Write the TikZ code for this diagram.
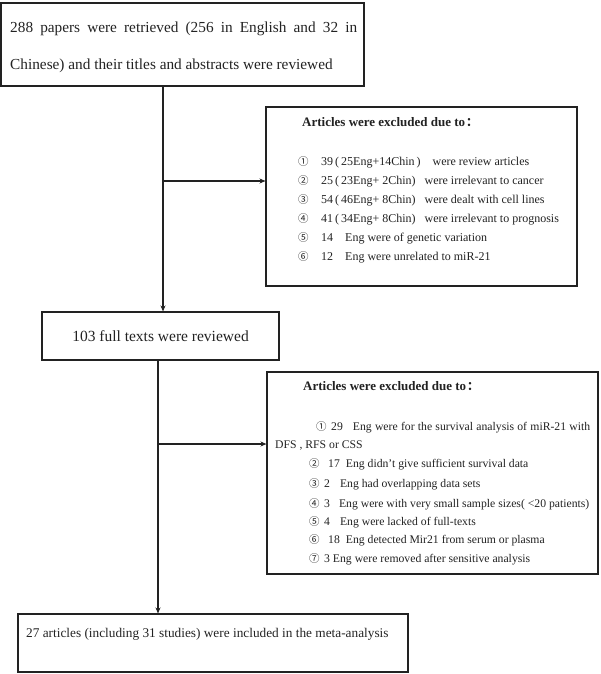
\documentclass[tikz,border=0pt]{standalone}
\usepackage{fontspec}
\setmainfont{Liberation Serif}
\newfontfamily\cjkfont{Noto Sans CJK SC}
\usetikzlibrary{arrows.meta}
\definecolor{ink}{HTML}{222222}
\newcommand{\cn}[1]{{\cjkfont\fontsize{10.5}{12}\selectfont #1}}
\tikzset{
  box/.style={draw=ink, line width=1.1pt, inner sep=0pt},
  txt/.style={anchor=base west, inner sep=0pt, text=ink},
  bigtxt/.style={txt, font=\fontsize{15.3}{18}\selectfont},
  itemA/.style={txt, font=\fontsize{12}{14}\selectfont},
  itemB/.style={txt, font=\fontsize{11.7}{14}\selectfont},
  ttl/.style={txt, font=\fontsize{13}{15}\selectfont\bfseries},
  ln/.style={draw=ink, line width=1.1pt},
  arr/.style={ln, -{Stealth[length=6pt,width=5pt]}}
}
\begin{document}
\begin{tikzpicture}[x=1pt,y=-1pt]
\useasboundingbox (0,0) rectangle (600,674);
% boxes
\node[box, minimum width=363pt, minimum height=83pt] (b1) at (182.5,44.5) {};
\node[box, minimum width=311pt, minimum height=179pt] (b2) at (421.5,196.5) {};
\node[box, minimum width=237pt, minimum height=48pt] (b3) at (160.5,336) {};
\node[box, minimum width=331pt, minimum height=202pt] (b4) at (432.5,473) {};
\node[box, minimum width=390pt, minimum height=58pt] (b5) at (213,643) {};
% box 1 text
\node[bigtxt] (t1a) at (10,33) {\makebox[347pt][s]{288 papers were retrieved (256 in English and 32 in}};
\node[bigtxt] (t1b) at (10,70) {Chinese) and their titles and abstracts were reviewed};
% box 2 text
\node[ttl] (t2) at (302,126) {Articles were excluded due to\hspace{1pt}{\cjkfont\fontsize{12}{14}\selectfont ：}};
\node[itemA] (i1) at (298,165) {\makebox[23pt][l]{\cn{①}}39\,(\,25Eng+14Chin\,)\hspace{12pt}were review articles};
\node[itemA] (i2) at (298,184) {\makebox[23pt][l]{\cn{②}}25\,(\,23Eng+ 2Chin)\hspace{9pt}were irrelevant to cancer};
\node[itemA] (i3) at (298,203) {\makebox[23pt][l]{\cn{③}}54\,(\,46Eng+ 8Chin)\hspace{9pt}were dealt with cell lines};
\node[itemA] (i4) at (298,222) {\makebox[23pt][l]{\cn{④}}41\,(\,34Eng+ 8Chin)\hspace{9pt}were irrelevant to prognosis};
\node[itemA] (i5) at (298,241) {\makebox[23pt][l]{\cn{⑤}}14\hspace{12pt}Eng were of genetic variation};
\node[itemA] (i6) at (298,260) {\makebox[23pt][l]{\cn{⑥}}12\hspace{12pt}Eng were unrelated to miR-21};
% box 3 text
\node[text=ink, font=\fontsize{15.5}{18}\selectfont, inner sep=0pt] (t3) at (b3) {103 full texts were reviewed};
% box 4 text
\node[ttl] (t4) at (303,390) {Articles were excluded due to\hspace{1pt}{\cjkfont\fontsize{12}{14}\selectfont ：}};
\node[itemB] (j1) at (316,430) {\makebox[274pt][s]{\makebox[15pt][l]{\cn{①}}29\hspace{10pt}Eng were for the survival analysis of miR-21 with}};
\node[itemB] (j1b) at (275,448) {DFS , RFS or CSS};
\node[itemB] (j2) at (309,467) {\makebox[19pt][l]{\cn{②}}17\hspace{6pt}Eng didn't give sufficient survival data};
\node[itemB] (j3) at (309,487) {\makebox[15pt][l]{\cn{③}}2\hspace{10pt}Eng had overlapping data sets};
\node[itemB] (j4) at (309,507) {\makebox[15pt][l]{\cn{④}}3\hspace{9pt}Eng were with very small sample sizes( <20 patients)};
\node[itemB] (j5) at (309,525) {\makebox[15pt][l]{\cn{⑤}}4\hspace{10pt}Eng were lacked of full-texts};
\node[itemB] (j6) at (309,543) {\makebox[19pt][l]{\cn{⑥}}18\hspace{6pt}Eng detected Mir21 from serum or plasma};
\node[itemB] (j7) at (309,562) {\makebox[15pt][l]{\cn{⑦}}3 Eng were removed after sensitive analysis};
% box 5 text
\node[txt, font=\fontsize{13.3}{16}\selectfont] (t5) at (26,637) {27 articles (including 31 studies) were included in the meta-analysis};
% connectors
\coordinate (k1) at (163,181);
\coordinate (k2) at (158,444);
\draw[arr] (b1.south -| k1) -- (b3.north -| k1);
\draw[arr] (k1) -- (b2.west |- k1);
\draw[arr] (b3.south -| k2) -- (b5.north -| k2);
\draw[arr] (k2) -- (b4.west |- k2);
\end{tikzpicture}
\end{document}
